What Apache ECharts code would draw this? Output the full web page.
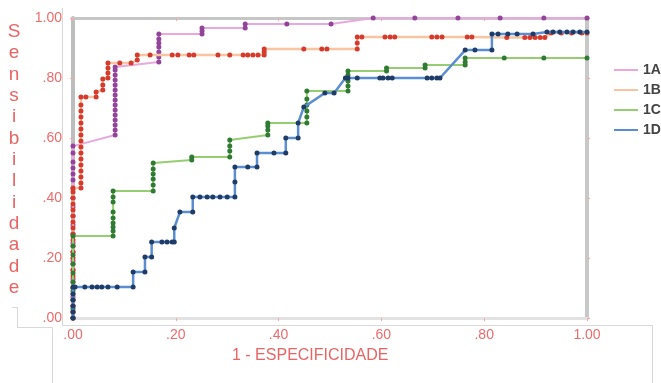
<!DOCTYPE html>
<html>
<head>
<meta charset="utf-8">
<script src="https://cdn.jsdelivr.net/npm/echarts@6/dist/echarts.min.js"></script>
<style>html,body{margin:0;padding:0;background:#fff}#c{width:661px;height:383px}</style>
</head>
<body>
<div id="c"></div>
<script>
const seriesNames = ['1A', '1B', '1C', '1D'];
const xTicks = ['.00', '.20', '.40', '.60', '.80', '1.00'];
const yTicks = ['.00', '.20', '.40', '.60', '.80', '1.00'];

const fpr1A = [0,0,0,0,0,0,0,0,0,0,0,0,0,0,0,0,0,0,0,0,0,0,
  0.082,0.082,0.082,0.082,0.082,0.082,0.082,0.082,0.082,0.082,0.082,0.082,0.082,0.082,0.082,
  0.167,0.167,0.167,0.167,0.167,0.167,0.167,
  0.251,0.251,0.251,0.335,0.335,0.416,0.502,0.584,0.665,0.749,0.831,0.916,1.0];
const tpr1A = [0,0.02,0.04,0.07,0.1,0.13,0.16,0.19,0.22,0.25,0.28,0.31,0.34,0.37,0.4,0.43,0.46,0.48,0.5,0.52,0.55,0.573,
  0.61,0.627,0.643,0.66,0.677,0.693,0.71,0.727,0.743,0.76,0.777,0.793,0.81,0.827,0.837,
  0.853,0.87,0.887,0.903,0.917,0.93,0.947,
  0.947,0.957,0.967,0.967,0.98,0.98,0.98,1,1,1,1,1,1];

const fpr1B = [0,0,0,0,0,0,0,0,0,0,0,0,0,0,0,0,0,0,0,0,0,0,0,
  0.0155,0.0155,0.0155,0.0155,0.0155,0.0155,0.0155,0.0155,0.0155,0.0155,0.0155,0.0155,0.0155,0.0155,0.0155,0.0155,
  0.025,0.045,0.045,0.058,0.058,0.058,0.068,0.068,0.068,0.068,0.091,0.113,0.125,0.125,
  0.150,0.193,0.204,0.226,0.235,0.282,0.305,0.331,0.340,0.350,0.360,0.372,0.372,0.372,
  0.449,0.484,0.494,0.553,0.553,0.553,0.562,0.607,0.617,0.626,0.698,0.708,0.718,0.767,0.776,
  0.844,0.879,0.889,0.899,0.909,0.918,0.93,0.95,0.97,0.99,1.0];
const tpr1B = [0,0.02,0.04,0.06,0.08,0.1,0.12,0.14,0.16,0.18,0.2,0.22,0.24,0.26,0.28,0.3,0.32,0.34,0.36,0.38,0.4,0.42,0.433,
  0.433,0.45,0.47,0.49,0.51,0.53,0.55,0.57,0.59,0.61,0.63,0.65,0.67,0.69,0.71,0.737,
  0.737,0.737,0.753,0.76,0.777,0.797,0.8,0.817,0.833,0.85,0.85,0.85,0.86,0.877,
  0.877,0.877,0.877,0.877,0.877,0.877,0.877,0.877,0.877,0.877,0.877,0.877,0.887,0.897,
  0.897,0.897,0.897,0.897,0.917,0.937,0.937,0.937,0.937,0.937,0.937,0.937,0.937,0.937,0.937,
  0.935,0.935,0.935,0.935,0.935,0.935,0.95,0.95,0.95,0.95,0.95];

const fpr1C = [0,0,0,0,0,0,0,0,0,0,
  0.078,0.078,0.078,0.078,0.078,0.078,0.078,0.078,0.078,
  0.156,0.156,0.156,0.156,0.156,0.156,
  0.231,0.231,0.305,0.305,0.305,0.305,
  0.379,0.379,0.379,0.379,
  0.455,0.455,0.455,0.455,0.455,0.455,
  0.535,0.535,0.535,0.535,0.535,
  0.61,0.61,0.685,0.685,0.763,0.763,0.763,0.839,0.916,1.0];
const tpr1C = [0,0.03,0.06,0.09,0.12,0.15,0.18,0.21,0.24,0.273,
  0.273,0.29,0.303,0.317,0.333,0.353,0.387,0.403,0.423,
  0.423,0.443,0.463,0.48,0.497,0.517,
  0.527,0.537,0.537,0.557,0.573,0.593,
  0.61,0.627,0.64,0.65,
  0.65,0.67,0.69,0.71,0.73,0.757,
  0.757,0.773,0.79,0.81,0.823,
  0.823,0.833,0.833,0.843,0.843,0.853,0.867,0.867,0.867,0.867];

const fpr1D = [0,0,0,0,0,0,
  0.004,0.023,0.037,0.047,0.056,0.068,0.086,0.117,
  0.117,0.140,0.140,0.153,0.153,0.173,0.183,0.193,0.197,0.197,0.208,0.233,0.233,
  0.247,0.261,0.272,0.286,0.3,0.315,0.315,0.315,0.340,0.358,0.358,0.391,0.414,0.414,0.438,0.438,
  0.449,0.490,0.508,0.53,0.535,0.553,0.597,0.603,0.613,0.621,0.689,0.698,0.708,0.714,
  0.763,0.782,0.815,0.815,0.827,0.846,0.864,0.895,0.922,0.934,0.947,0.961,0.973,0.986,1.0];
const tpr1D = [0,0.02,0.04,0.06,0.08,0.103,
  0.103,0.103,0.103,0.103,0.103,0.103,0.103,0.103,
  0.153,0.153,0.203,0.203,0.253,0.253,0.253,0.253,0.253,0.3,0.353,0.353,0.403,
  0.403,0.403,0.403,0.403,0.403,0.403,0.453,0.503,0.503,0.503,0.55,0.55,0.55,0.6,0.6,0.65,
  0.703,0.75,0.75,0.8,0.8,0.8,0.8,0.8,0.8,0.8,0.8,0.8,0.8,0.8,
  0.893,0.893,0.893,0.947,0.947,0.947,0.947,0.947,0.953,0.953,0.953,0.953,0.953,0.953,0.953];

const lineColors = ['#e9a9de', '#f9c4a0', '#97cd72', '#5a8ed0'];
const markerColors = ['#93449a', '#d63a2c', '#2f7b33', '#1f3c68'];
const lineWidths = [2, 2.5, 2, 2.5];

function zip(xs, ys) { return xs.map((x, i) => [x, ys[i]]); }
const dataSets = [zip(fpr1A, tpr1A), zip(fpr1B, tpr1B), zip(fpr1C, tpr1C), zip(fpr1D, tpr1D)];

const red = '#ef6b6b';
const fmt = v => { const i = Math.round(v * 5); return xTicks[i] !== undefined ? xTicks[i] : ''; };
const fmtY = v => { const i = Math.round(v * 5); return yTicks[i] !== undefined ? yTicks[i] : ''; };

const chart = echarts.init(document.getElementById('c'), null, { renderer: 'canvas' });
const lineG = (x1, y1, x2, y2) => ({ type: 'line', silent: true, shape: { x1, y1, x2, y2 }, style: { stroke: '#d9d9d9', lineWidth: 1 } });

chart.setOption({
  animation: false,
  backgroundColor: '#fff',
  grid: { left: 73, right: 74, top: 18, bottom: 65, containLabel: false },
  xAxis: [
    { type: 'value', position: 'bottom', min: 0, max: 1, interval: 0.2,
      axisLine: { show: true, onZero: false, lineStyle: { color: '#e2e2e2', width: 3 } },
      axisTick: { show: true, length: 3, lineStyle: { color: '#f6a8a8' } },
      axisLabel: { color: red, fontSize: 14, fontFamily: 'Liberation Sans, Arial, sans-serif', margin: 10, formatter: fmt },
      splitLine: { show: false } },
    { type: 'value', position: 'top', min: 0, max: 1, interval: 0.2,
      axisLine: { show: true, onZero: false, lineStyle: { color: '#c6c6c6', width: 3 } },
      axisTick: { show: true, length: 3, inside: true, lineStyle: { color: '#f6a8a8' } },
      axisLabel: { show: false }, splitLine: { show: false } }
  ],
  yAxis: [
    { type: 'value', position: 'left', min: 0, max: 1, interval: 0.2,
      axisLine: { show: true, onZero: false, lineStyle: { color: '#bdbdbd', width: 4 } },
      axisTick: { show: true, length: 3, lineStyle: { color: '#f6a8a8' } },
      axisLabel: { color: red, fontSize: 14, fontFamily: 'Liberation Sans, Arial, sans-serif', margin: 11, formatter: fmtY },
      splitLine: { show: false } },
    { type: 'value', position: 'right', min: 0, max: 1, interval: 0.2,
      axisLine: { show: true, onZero: false, lineStyle: { color: '#c8c8c8', width: 4 } },
      axisTick: { show: true, length: 3, lineStyle: { color: '#f6a8a8' } },
      axisLabel: { show: false }, splitLine: { show: false } }
  ],
  legend: {
    orient: 'vertical', left: 608, top: 58,
    itemWidth: 24, itemHeight: 14, itemGap: 6,
    data: seriesNames,
    itemStyle: { color: 'rgba(0,0,0,0)', borderColor: 'rgba(0,0,0,0)', borderWidth: 0 },
    textStyle: { color: '#444', fontSize: 14, fontWeight: 'bold', fontFamily: 'Liberation Sans, Arial, sans-serif' }
  },
  series: seriesNames.map((n, i) => ({
    name: n, type: 'line', data: dataSets[i],
    symbol: 'circle', symbolSize: 5, showAllSymbol: true,
    lineStyle: { color: lineColors[i], width: lineWidths[i] },
    itemStyle: { color: markerColors[i] },
    emphasis: { disabled: true }, z: 3 + i
  })),
  graphic: [
    lineG(62.5, 8, 62.5, 325.5),
    lineG(62, 325.5, 652.5, 325.5),
    lineG(652.5, 325, 652.5, 383),
    lineG(52.5, 327.5, 52.5, 383),
    lineG(17.5, 327.5, 52.5, 327.5),
    lineG(17.5, 307, 17.5, 328),
    lineG(12, 307.5, 17.5, 307.5),
    { type: 'text', x: 14, y: 21, silent: true,
      style: { text: 'Sensibilidade'.split('').join('\n'), fill: '#ea6464', fontSize: 19, lineHeight: 21.33,
        fontFamily: 'Liberation Sans, Arial, sans-serif', align: 'center', verticalAlign: 'top' } },
    { type: 'text', left: 232, top: 348, silent: true,
      style: { text: '1 - ESPECIFICIDADE', fill: '#ea6464', fontSize: 16, fontFamily: 'Liberation Sans, Arial, sans-serif' } }
  ]
});
</script>
</body>
</html>
